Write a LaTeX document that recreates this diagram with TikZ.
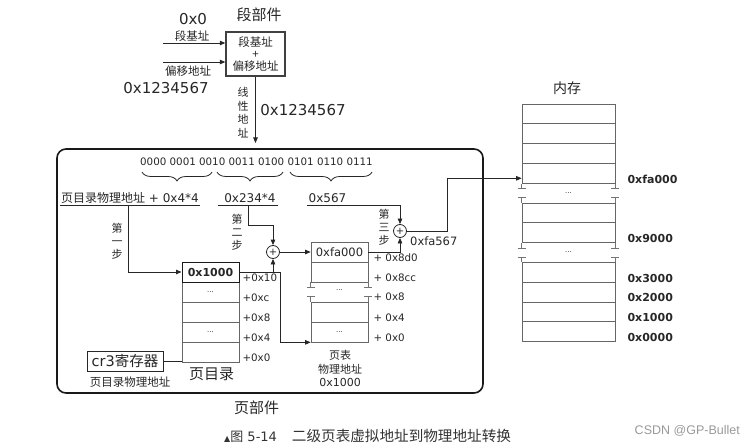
\documentclass[tikz,border=0pt]{standalone}
\usepackage{fontspec}
\setmainfont{DejaVu Sans}
\newfontfamily\cjk{Noto Sans CJK SC}
\newfontfamily\arialfont{Liberation Sans}
\usetikzlibrary{arrows.meta,decorations.pathreplacing}

\begin{document}
\begin{tikzpicture}[x=1pt,y=-1pt,
    every node/.style={inner sep=0pt,text=black!85},
    conn/.style={line width=0.8pt,black!85},
    arrowline/.style={conn,-{Triangle[length=5.5pt,width=4.5pt]}},
    cell/.style={draw=black!60,line width=0.7pt,minimum width=57pt,minimum height=20pt},
    memcell/.style={cell,minimum width=93pt,minimum height=19.8pt},
    gapmark/.style={draw=black!55,line width=0.7pt},
    dots/.style={font=\fontsize{7}{7}\selectfont},
    offs/.style={anchor=west,font=\fontsize{10.3}{10.3}\selectfont},
    addr/.style={anchor=west,font=\fontsize{11}{11}\selectfont\bfseries},
    adder/.style={circle,draw=black!85,line width=0.8pt,minimum size=13pt,font=\fontsize{10}{10}\selectfont},
    stepnote/.style={align=center,font=\cjk\fontsize{11}{13}\selectfont},
    bracemark/.style={decorate,decoration={brace,mirror,amplitude=9pt},line width=0.8pt,black!85}]
\useasboundingbox (0,0) rectangle (754,446);

% Drawing segment part
\node[font=\cjk\fontsize{15}{15}\selectfont] (segtitle) at (259,15) {段部件};
\node[draw=black!75,line width=1.4pt,minimum width=59pt,minimum height=44pt,align=center,
      font=\cjk\fontsize{11.5}{12}\selectfont] (segbox) at (255.5,54) {段基址\\+\\偏移地址};
\node[font=\fontsize{15}{15}\selectfont] (segbase) at (193,19) {0x0};
\node[font=\cjk\fontsize{11.5}{11.5}\selectfont] (segbaselab) at (192,36) {段基址};
\node[font=\cjk\fontsize{11.5}{11.5}\selectfont] (offlab) at (188,71) {偏移地址};
\node[font=\fontsize{15}{15}\selectfont] (offval) at (166,88) {0x1234567};
\coordinate (segin1) at (163,43);
\coordinate (segin2) at (163,62);
\draw[arrowline] (segin1) -- (segin1 -| segbox.west);
\draw[arrowline] (segin2) -- (segin2 -| segbox.west);

% Drawing linear address
\coordinate (linend) at (255.5,143);
\draw[arrowline] (segbox.south) -- (linend);
\node[font=\cjk\fontsize{11}{13.7}\selectfont,align=center] (linlab) at (243,112.5) {线\\性\\地\\址};
\node[font=\fontsize{15}{15}\selectfont] (linval) at (303,110) {0x1234567};

% Drawing page part frame
\draw[line width=1.6pt,black!90,rounded corners=9pt] (57,149) rectangle (483,393);
\node[font=\cjk\fontsize{15}{15}\selectfont] (pagetitle) at (256.5,408) {页部件};

% Marking bits and braces
\node[font=\fontsize{10.3}{10.3}\selectfont] (bits) at (256.5,162) {0000 0001 0010 0011 0100 0101 0110 0111};
\draw[bracemark] (142,172) -- (212,172);
\draw[bracemark] (217,172) -- (283,172);
\draw[bracemark] (290,172) -- (372,172);

% Marking the three parts
\node[font=\fontsize{12}{12}\selectfont] (dirsum) at (130,198) {{\cjk 页目录物理地址} + 0x4*4};
\node[font=\fontsize{12}{12}\selectfont] (pdoff) at (250,198) {0x234*4};
\node[font=\fontsize{12}{12}\selectfont] (pgoff) at (327.5,198) {0x567};
\coordinate (ul1a) at (60,205);
\coordinate (ul1b) at (200,205);
\coordinate (ul2a) at (218,205);
\coordinate (ul2b) at (278,205);
\coordinate (ul3a) at (307,205);
\coordinate (ul3b) at (400,205);
\draw[conn] (ul1a) -- (ul1b);
\draw[conn] (ul2a) -- (ul2b);
\draw[conn] (ul3a) -- (ul3b);

% Drawing page directory
\node[cell] (pd2) at (210.5,292) {\fontsize{7}{7}\selectfont ...};
\node[cell] (pd3) at (210.5,312) {};
\node[cell] (pd4) at (210.5,332) {\fontsize{7}{7}\selectfont ...};
\node[cell] (pd5) at (210.5,352) {};
\node[cell,draw=black!90,line width=1pt,fill=white,font=\fontsize{11}{11}\selectfont\bfseries] (pd1) at (210.5,272) {0x1000};
\node[offs] (pdo10) at ([xshift=3pt,yshift=4.5pt]pd1.south east) {+0x10};
\node[offs] (pdo0c) at ([xshift=3pt,yshift=4.5pt]pd2.south east) {+0xc};
\node[offs] (pdo08) at ([xshift=3pt,yshift=4.5pt]pd3.south east) {+0x8};
\node[offs] (pdo04) at ([xshift=3pt,yshift=4.5pt]pd4.south east) {+0x4};
\node[offs] (pdo00) at ([xshift=3pt,yshift=4.5pt]pd5.south east) {+0x0};
\node[font=\cjk\fontsize{15}{15}\selectfont] (pdcap) at (211.5,374) {页目录};

% Drawing cr3
\node[draw=black!85,line width=0.8pt,minimum width=76pt,minimum height=20pt,
      font=\fontsize{14.5}{14.5}\selectfont] (cr3) at (125,361) {cr3{\cjk 寄存器}};
\node[font=\cjk\fontsize{11.5}{11.5}\selectfont] (cr3lab) at (130,382) {页目录物理地址};
\draw[conn] (cr3.east) -- (cr3.east -| pd5.west);

% Drawing page table
\node[cell] (pt2) at (339.5,272) {};
\node[cell] (pt3) at (339.5,312) {};
\node[cell] (pt4) at (339.5,332) {\fontsize{7}{7}\selectfont ...};
\node[cell,font=\fontsize{11.5}{11.5}\selectfont] (pt1) at (339.5,252) {0xfa000};
\node[dots] (ptdots) at (339.5,290) {...};
\draw[gapmark] (pt2.south west) -- ++(0,5) ++(-4,0) -- ++(8,0);
\draw[gapmark] (pt2.south east) -- ++(0,5) ++(-4,0) -- ++(8,0);
\draw[gapmark] (pt3.north west) -- ++(0,-5) ++(-4,0) -- ++(8,0);
\draw[gapmark] (pt3.north east) -- ++(0,-5) ++(-4,0) -- ++(8,0);
\node[offs] (pto8d0) at ([xshift=5pt,yshift=4.5pt]pt1.south east) {+ 0x8d0};
\node[offs] (pto8cc) at ([xshift=5pt,yshift=4.5pt]pt2.south east) {+ 0x8cc};
\node[offs] (pto8) at ([xshift=5pt,yshift=4.5pt]pt3.north east) {+ 0x8};
\node[offs] (pto4) at ([xshift=5pt,yshift=4.5pt]pt3.south east) {+ 0x4};
\node[offs] (pto0) at ([xshift=5pt,yshift=4.5pt]pt4.south east) {+ 0x0};
\node[align=center,font=\fontsize{11}{13.5}\selectfont] (ptcap) at (340,368.5) {{\cjk 页表}\\{\cjk 物理地址}\\0x1000};

% Drawing memory
\node[font=\cjk\fontsize{14}{14}\selectfont] (memtitle) at (567,88) {内存};
\node[memcell] (m1) at (568.5,113.9) {};
\node[memcell] (m2) at (568.5,133.7) {};
\node[memcell] (m3) at (568.5,153.5) {};
\node[memcell] (m4) at (568.5,173.3) {};
\node[memcell] (m5) at (568.5,212.9) {};
\node[memcell] (m6) at (568.5,232.7) {};
\node[memcell] (m7) at (568.5,272.3) {};
\node[memcell] (m8) at (568.5,292.1) {};
\node[memcell] (m9) at (568.5,311.9) {};
\node[memcell] (m10) at (568.5,331.7) {};
\node[dots] (mdots1) at (568.5,193) {...};
\node[dots] (mdots2) at (568.5,252.5) {...};
\draw[gapmark] (m4.south west) -- ++(0,5) ++(-4,0) -- ++(8,0);
\draw[gapmark] (m4.south east) -- ++(0,5) ++(-4,0) -- ++(8,0);
\draw[gapmark] (m5.north west) -- ++(0,-5) ++(-4,0) -- ++(8,0);
\draw[gapmark] (m5.north east) -- ++(0,-5) ++(-4,0) -- ++(8,0);
\draw[gapmark] (m6.south west) -- ++(0,5) ++(-4,0) -- ++(8,0);
\draw[gapmark] (m6.south east) -- ++(0,5) ++(-4,0) -- ++(8,0);
\draw[gapmark] (m7.north west) -- ++(0,-5) ++(-4,0) -- ++(8,0);
\draw[gapmark] (m7.north east) -- ++(0,-5) ++(-4,0) -- ++(8,0);

% Marking memory addresses
\node[addr] (mfa000) at ([xshift=12pt,yshift=4pt]m4.south east) {0xfa000};
\node[addr] (m9000) at ([xshift=12pt,yshift=4.5pt]m6.south east) {0x9000};
\node[addr] (m3000) at ([xshift=12pt,yshift=4.5pt]m7.south east) {0x3000};
\node[addr] (m2000) at ([xshift=12pt,yshift=4.5pt]m8.south east) {0x2000};
\node[addr] (m1000) at ([xshift=12pt,yshift=4.5pt]m9.south east) {0x1000};
\node[addr] (m0000) at ([xshift=12pt,yshift=4pt]m10.south east) {0x0000};

% Drawing adders
\node[adder] (add2) at (273,252) {+};
\node[adder] (add3) at (400,231) {+};
\node[font=\fontsize{11.5}{11.5}\selectfont,anchor=west] (fa567) at (410,241) {0xfa567};

% Step one
\node[stepnote] (step1) at (117,241) {第\\一\\步};
\coordinate (s1) at (128,205);
\draw[arrowline] (s1) |- (pd1.west);

% Step two
\node[stepnote] (step2) at (237,232.5) {第\\二\\步};
\coordinate (s2) at (248,205);
\draw[arrowline] (s2) -- ++(0,20) -| (add2.north);
\coordinate (pdjoin) at (280,272);
\draw[conn] (pd1.east) -- (pdjoin);
\draw[arrowline] (add2 |- pd1.east) -- (add2.south);
\draw[arrowline] (pdjoin) |- (pt4.south west);
\draw[arrowline] (add2.east) -- (pt1.west);

% Step three
\node[stepnote] (step3) at (384,227) {第\\三\\步};
\draw[arrowline] (ul3b) -- (add3.north);
\draw[arrowline] (pt1.east) -| (add3.south);
\draw[arrowline] (add3.east) -- ++(40,0) |- ([yshift=-5pt]m4.west);

% Caption and watermark
\node[anchor=west,text=black!80,font=\fontsize{13}{13}\selectfont] (caption) at (224,436)
  {{\fontsize{8}{8}\selectfont ▲}{\cjk 图} 5-14\hspace{15pt}{\cjk\fontsize{14.6}{14.6}\selectfont 二级页表虚拟地址到物理地址转换}};
\node[anchor=east,text=black!40,font=\arialfont\fontsize{12.5}{12.5}\selectfont] (wmark) at (740,431) {CSDN @GP-Bullet};
\end{tikzpicture}
\end{document}
